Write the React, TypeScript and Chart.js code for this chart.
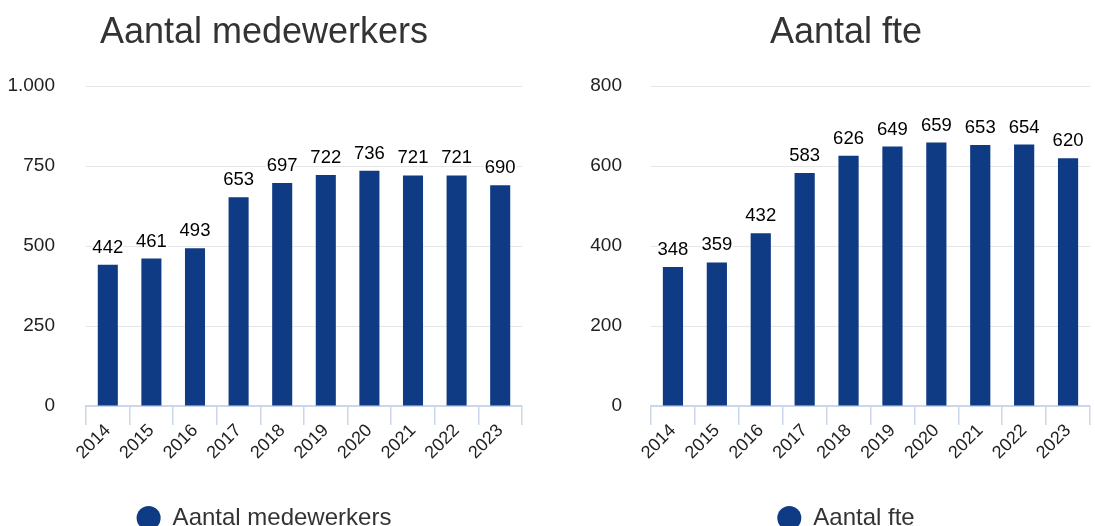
import React, { useEffect, useRef } from "react";
import { Chart, registerables } from "chart.js";

Chart.register(...registerables);

const years = ["2014", "2015", "2016", "2017", "2018", "2019", "2020", "2021", "2022", "2023"];
const medewerkers = [442, 461, 493, 653, 697, 722, 736, 721, 721, 690];
const fte = [348, 359, 432, 583, 626, 649, 659, 653, 654, 620];

const FONT = '"Liberation Sans", Arial, Helvetica, sans-serif';
const BAR = "#0f3a84";

const valueLabels = {
  id: "valueLabels",
  afterDatasetsDraw(chart: any) {
    const ctx = chart.ctx;
    const meta = chart.getDatasetMeta(0);
    const data = chart.data.datasets[0].data;
    ctx.save();
    ctx.font = `18.5px ${FONT}`;
    ctx.textAlign = "center";
    ctx.textBaseline = "alphabetic";
    ctx.lineJoin = "round";
    meta.data.forEach((bar: any, i: number) => {
      const t = String(data[i]);
      ctx.strokeStyle = "#ffffff";
      ctx.lineWidth = 3;
      ctx.strokeText(t, bar.x, bar.y - 12);
      ctx.fillStyle = "#000000";
      ctx.fillText(t, bar.x, bar.y - 12);
    });
    ctx.restore();
  },
};

function centerBoxes(cx: number) {
  return {
    id: "centerBoxes",
    afterLayout(chart: any) {
      const boxes = [chart.titleBlock, chart.legend];
      boxes.forEach((b: any) => {
        if (!b) return;
        const w = b.right - b.left;
        b.left = cx - w / 2;
        b.right = cx + w / 2;
      });
    },
  };
}

function fmt(v: number) {
  return String(v).replace(/\B(?=(\d{3})+(?!\d))/g, ".");
}

type Props = {
  left: number;
  width: number;
  title: string;
  label: string;
  values: number[];
  max: number;
  step: number;
  yWidth: number;
  yPad: number;
  padRight: number;
  cx: number;
};

function BarChart(p: Props) {
  const ref = useRef<HTMLCanvasElement | null>(null);
  useEffect(() => {
    if (!ref.current) return;
    const chart = new Chart(ref.current, {
      type: "bar",
      data: {
        labels: years,
        datasets: [
          {
            label: p.label,
            data: p.values,
            backgroundColor: BAR,
            borderWidth: 0,
            barPercentage: 0.46,
            categoryPercentage: 1,
          },
        ],
      },
      options: {
        responsive: false,
        animation: false,
        devicePixelRatio: 1,
        layout: { padding: { left: 0, right: p.padRight, top: 0, bottom: 0 } },
        plugins: {
          title: {
            display: true,
            text: p.title,
            color: "#333333",
            font: { family: FONT, size: 36, weight: "normal" as any },
            padding: { top: 11, bottom: 32 },
          },
          legend: {
            display: true,
            position: "bottom",
            labels: {
              usePointStyle: true,
              pointStyle: "circle",
              boxWidth: 24,
              boxHeight: 17,
              padding: 10,
              color: "#333333",
              font: { family: FONT, size: 24 },
            },
          },
          tooltip: { enabled: false },
        },
        scales: {
          x: {
            type: "category",
            grid: {
              display: true,
              offset: true,
              drawOnChartArea: false,
              drawTicks: true,
              tickLength: 19,
              color: "#ccd6eb",
              lineWidth: 1.5,
            },
            border: { display: true, color: "#ccd6eb", width: 2 },
            ticks: {
              autoSkip: false,
              maxRotation: 45,
              minRotation: 45,
              padding: -5,
              color: "#222222",
              font: { family: FONT, size: 18 },
            },
            afterFit(scale: any) {
              scale.height = 90;
            },
          },
          y: {
            min: 0,
            max: p.max,
            grid: { color: "#e6e6e6", lineWidth: 1, drawTicks: false },
            border: { display: false },
            ticks: {
              stepSize: p.step,
              padding: p.yPad,
              color: "#222222",
              font: { family: FONT, size: 19 },
              callback: (v: any) => fmt(Number(v)),
            },
            afterFit(scale: any) {
              scale.width = p.yWidth;
            },
          },
        },
      },
      plugins: [valueLabels, centerBoxes(p.cx)],
    });
    return () => chart.destroy();
  }, []);
  return (
    <canvas
      ref={ref}
      width={p.width}
      height={540}
      style={{ position: "absolute", left: p.left, top: 0, width: p.width, height: 540 }}
    />
  );
}

export default function App() {
  return (
    <div
      style={{
        position: "fixed",
        left: 0,
        top: 0,
        width: 1095,
        height: 526,
        overflow: "hidden",
        background: "#ffffff",
      }}
    >
      <BarChart
        left={0}
        width={528}
        title="Aantal medewerkers"
        label="Aantal medewerkers"
        values={medewerkers}
        max={1000}
        step={250}
        yWidth={86}
        yPad={31}
        padRight={6}
        cx={264}
      />
      <BarChart
        left={560}
        width={535}
        title="Aantal fte"
        label="Aantal fte"
        values={fte}
        max={800}
        step={200}
        yWidth={91}
        yPad={29}
        padRight={5}
        cx={286}
      />
    </div>
  );
}
